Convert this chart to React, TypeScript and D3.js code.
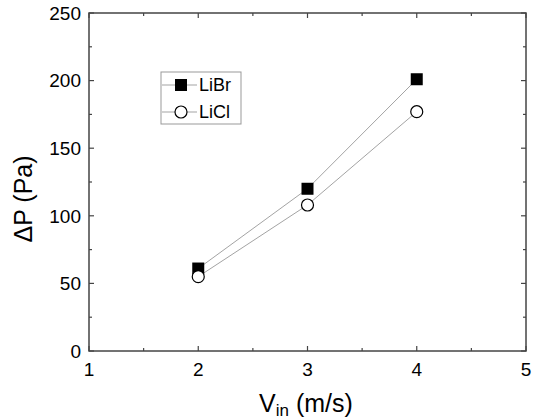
import React, { useEffect, useRef } from "react";
import * as d3 from "d3";

const velocities = [2, 3, 4];
const libr = [61, 120, 201];
const licl = [55, 108, 177];
const xTicks = [1, 2, 3, 4, 5];
const yTicks = [0, 50, 100, 150, 200, 250];
const seriesNames = ["LiBr", "LiCl"];

export default function App() {
  const ref = useRef<SVGSVGElement>(null);

  useEffect(() => {
    const svg = d3.select(ref.current);
    svg.selectAll("*").remove();

    const left = 89, right = 526, top = 13, bottom = 351;
    const x = d3.scaleLinear().domain([1, 5]).range([left, right]);
    const y = d3.scaleLinear().domain([0, 250]).range([bottom, top]);
    const axisColor = "#444";
    const font = "'Liberation Sans', Arial, sans-serif";

    const g = svg.append("g");

    // minor + major ticks, inward, on all four sides
    const xMinor = d3.range(1.5, 5, 1);
    const yMinor = d3.range(25, 250, 50);
    xTicks.concat(xMinor).forEach((v) => {
      const len = xTicks.includes(v) ? 5 : 3;
      g.append("line").attr("x1", x(v)).attr("x2", x(v)).attr("y1", bottom).attr("y2", bottom - len)
        .attr("stroke", axisColor).attr("stroke-width", 1.2);
      g.append("line").attr("x1", x(v)).attr("x2", x(v)).attr("y1", top).attr("y2", top + len)
        .attr("stroke", axisColor).attr("stroke-width", 1.2);
    });
    yTicks.concat(yMinor).forEach((v) => {
      const len = yTicks.includes(v) ? 5 : 3;
      g.append("line").attr("x1", left).attr("x2", left + len).attr("y1", y(v)).attr("y2", y(v))
        .attr("stroke", axisColor).attr("stroke-width", 1.2);
      g.append("line").attr("x1", right).attr("x2", right - len).attr("y1", y(v)).attr("y2", y(v))
        .attr("stroke", axisColor).attr("stroke-width", 1.2);
    });

    g.append("rect").attr("x", left).attr("y", top).attr("width", right - left).attr("height", bottom - top)
      .attr("fill", "none").attr("stroke", axisColor).attr("stroke-width", 1.5);

    g.selectAll(".xl").data(xTicks).enter().append("text")
      .attr("x", (d) => x(d)).attr("y", bottom + 25).attr("text-anchor", "middle")
      .attr("font-family", font).attr("font-size", 19).text((d) => d);
    g.selectAll(".yl").data(yTicks).enter().append("text")
      .attr("x", left - 8).attr("y", (d) => y(d)).attr("dy", "0.36em").attr("text-anchor", "end")
      .attr("font-family", font).attr("font-size", 19).text((d) => d);

    // axis titles
    const xt = g.append("text").attr("x", 306).attr("y", 412).attr("text-anchor", "middle")
      .attr("font-family", font).attr("font-size", 25);
    xt.append("tspan").text("V");
    xt.append("tspan").attr("font-size", 17).attr("dy", 4).text("in");
    xt.append("tspan").attr("dy", -4).text(" (m/s)");
    g.append("text").attr("transform", `translate(32,199) rotate(-90)`)
      .attr("text-anchor", "middle").attr("font-family", font).attr("font-size", 25).text("ΔP (Pa)");

    const line = d3.line<number>().x((_, i) => x(velocities[i])).y((d) => y(d));
    [libr, licl].forEach((s) => {
      g.append("path").attr("d", line(s)).attr("fill", "none").attr("stroke", "#999").attr("stroke-width", 0.9);
    });

    g.selectAll(".sq").data(libr).enter().append("rect")
      .attr("x", (d, i) => x(velocities[i]) - 6).attr("y", (d) => y(d) - 6)
      .attr("width", 12).attr("height", 12).attr("fill", "#000");
    g.selectAll(".ci").data(licl).enter().append("circle")
      .attr("cx", (d, i) => x(velocities[i])).attr("cy", (d) => y(d)).attr("r", 6)
      .attr("fill", "#fff").attr("stroke", "#000").attr("stroke-width", 1.2);

    // legend
    const lg = g.append("g");
    lg.append("rect").attr("x", 161).attr("y", 72).attr("width", 80).attr("height", 52)
      .attr("fill", "#fff").attr("stroke", "#999").attr("stroke-width", 1);
    seriesNames.forEach((name, i) => {
      const ly = 85 + i * 27;
      lg.append("line").attr("x1", 162).attr("x2", 197).attr("y1", ly).attr("y2", ly)
        .attr("stroke", "#999").attr("stroke-width", 0.9);
      if (i === 0) {
        lg.append("rect").attr("x", 175).attr("y", ly - 6).attr("width", 12).attr("height", 12).attr("fill", "#000");
      } else {
        lg.append("circle").attr("cx", 181).attr("cy", ly).attr("r", 6)
          .attr("fill", "#fff").attr("stroke", "#000").attr("stroke-width", 1.2);
      }
      lg.append("text").attr("x", 199).attr("y", ly).attr("dy", "0.36em")
        .attr("font-family", font).attr("font-size", 18).text(name);
    });
  }, []);

  return <svg ref={ref} width={540} height={419} style={{ position: "absolute", left: 0, top: 0, background: "#fff" }} />;
}
